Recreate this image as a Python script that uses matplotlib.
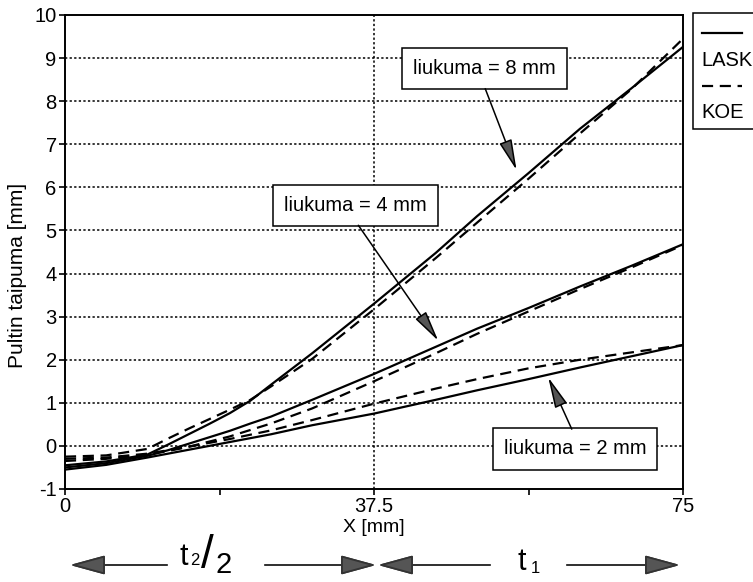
import matplotlib
matplotlib.use("Agg")
import matplotlib.pyplot as plt
from matplotlib.patches import Rectangle
from matplotlib.lines import Line2D

plt.rcParams['font.family'] = ['Liberation Sans', 'DejaVu Sans']
plt.rcParams['axes.unicode_minus'] = False

# X [mm]
x = [0, 5, 10, 12.5, 15, 17.5, 20, 22.5, 25, 30, 37.5, 45, 50, 56.25, 62.5, 68.75, 75]

# liukuma = 8 mm
lask_8 = [-0.45, -0.36, -0.2, 0.03, 0.27, 0.51, 0.76, 1.05, 1.42, 2.15, 3.3, 4.48, 5.33, 6.33, 7.36, 8.3, 9.26]
koe_8 = [-0.25, -0.22, -0.07, 0.17, 0.4, 0.62, 0.84, 1.07, 1.38, 2.02, 3.17, 4.36, 5.18, 6.2, 7.25, 8.28, 9.45]
# liukuma = 4 mm
lask_4 = [-0.5, -0.4, -0.23, -0.1, 0.05, 0.2, 0.35, 0.52, 0.68, 1.07, 1.67, 2.3, 2.72, 3.2, 3.7, 4.18, 4.68]
koe_4 = [-0.35, -0.3, -0.2, -0.12, -0.02, 0.1, 0.22, 0.37, 0.52, 0.87, 1.5, 2.15, 2.6, 3.12, 3.64, 4.14, 4.66]
# liukuma = 2 mm
lask_2 = [-0.55, -0.44, -0.27, -0.18, -0.09, 0.0, 0.09, 0.18, 0.27, 0.48, 0.75, 1.07, 1.29, 1.55, 1.82, 2.08, 2.34]
koe_2 = [-0.3, -0.27, -0.18, -0.1, -0.02, 0.07, 0.16, 0.26, 0.36, 0.6, 0.98, 1.33, 1.55, 1.8, 2.0, 2.17, 2.34]

labels = ['liukuma = 8 mm', 'liukuma = 4 mm', 'liukuma = 2 mm']

W, H = 753, 582
fig = plt.figure(figsize=(W / 100, H / 100), dpi=100)
ax = fig.add_axes([65 / W, 93 / H, 618 / W, 474 / H])

solid = dict(color='black', lw=1.6, linestyle='-')
dashed = dict(color='black', lw=1.6, linestyle=(0, (5, 3)))
for lask, koe in [(lask_8, koe_8), (lask_4, koe_4), (lask_2, koe_2)]:
    ax.plot(x, lask, **solid)
    ax.plot(x, koe, **dashed)

ax.set_xlim(0, 75)
ax.set_ylim(-1, 10)
ax.set_xticks([0, 18.75, 37.5, 56.25, 75])
ax.set_xticklabels(['0', '', '37.5', '', '75'])
ax.set_yticks(range(-1, 11))
ax.tick_params(labelsize=14.5, direction='out', length=4, width=1.2, pad=2)
ax.tick_params(axis='x', pad=2)
for s in ax.spines.values():
    s.set_linewidth(1.4)

# grid: every y level, only the middle x
for yv in range(0, 10):
    ax.axhline(yv, color='black', lw=1.1, linestyle=(0, (1.5, 1.5)), zorder=0)
ax.axvline(37.5, color='black', lw=1.1, linestyle=(0, (1.5, 1.5)), zorder=0)

fig.text(18 / W, (H - 275) / H, 'Pultin taipuma [mm]', rotation=90,
         ha='center', va='center', fontsize=15)
fig.text(374 / W, (H - 528) / H, 'X [mm]', ha='center', va='center', fontsize=14)

# annotation boxes and arrows
box_pos = [(50.9, 8.76), (35.3, 5.57), (61.9, -0.07)]
arrows = [((51.0, 8.29), (54.8, 6.4)), ((35.6, 5.12), (45.3, 2.44)), ((61.5, 0.39), (58.65, 1.59))]
for lab, (bx, by), (a0, a1) in zip(labels, box_pos, arrows):
    ax.text(bx, by, lab, ha='center', va='center', fontsize=14.5,
            bbox=dict(boxstyle='square,pad=0.55', fc='white', ec='black', lw=1.1), zorder=5)
    ax.annotate('', xy=a1, xytext=a0,
                arrowprops=dict(arrowstyle='-|>,head_length=1.9,head_width=0.4',
                                mutation_scale=10, fc='#555555', ec='black', lw=1.1,
                                shrinkA=0, shrinkB=0), zorder=6)

# legend drawn by hand, running off the right edge as in the scan
fig.add_artist(Rectangle((693 / W, (H - 129) / H), 120 / W, 116 / H,
                         transform=fig.transFigure, fc='white', ec='black', lw=1.1))
fig.add_artist(Line2D([702 / W, 742 / W], [(H - 33) / H] * 2, transform=fig.transFigure, **solid))
fig.add_artist(Line2D([702 / W, 742 / W], [(H - 86) / H] * 2, transform=fig.transFigure, **dashed))
fig.text(701 / W, (H - 60) / H, 'LASK', ha='left', va='center', fontsize=14.5)
fig.text(701 / W, (H - 113) / H, 'KOE', ha='left', va='center', fontsize=14.5)

# dimension arrows under the axis
ay = 17
big = dict(arrowstyle='-|>,head_length=2.2,head_width=0.6', mutation_scale=10,
           fc='#555555', ec='#333333', lw=1.3, shrinkA=0, shrinkB=0)
for x0, x1 in [(167, 70), (265, 376), (490, 378), (567, 680)]:
    fig.add_artist(plt.annotate('', xy=(x1, ay), xytext=(x0, ay), xycoords='figure pixels',
                                textcoords='figure pixels', arrowprops=big))
fig.text(180 / W, 17 / H, 't', ha='left', va='baseline', fontsize=22)
fig.text(190 / W, 17 / H, '2', ha='left', va='baseline', fontsize=12)
fig.text(207 / W, 26 / H, '/', ha='center', va='center', fontsize=33)
fig.text(215 / W, 9 / H, '2', ha='left', va='baseline', fontsize=21)
fig.text(517 / W, 12 / H, 't', ha='left', va='baseline', fontsize=22)
fig.text(531 / W, 9 / H, '1', ha='left', va='baseline', fontsize=12)

fig.savefig('out.png', dpi=100)
